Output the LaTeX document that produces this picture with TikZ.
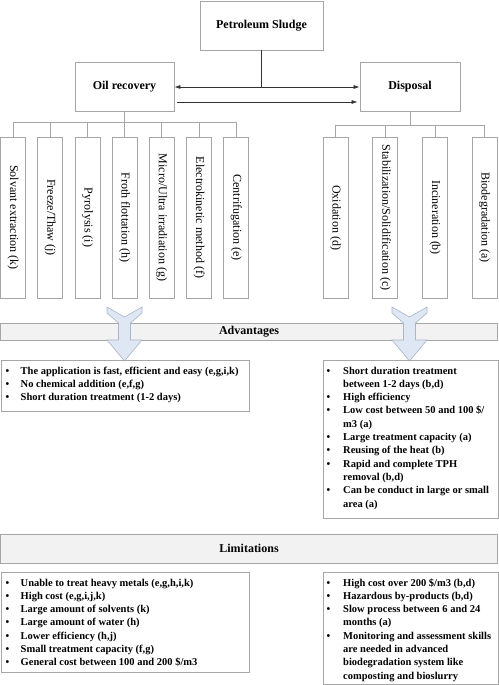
\documentclass[tikz,border=0pt]{standalone}
\usepackage{fontspec}
\setmainfont{Liberation Serif}
\usetikzlibrary{positioning,arrows.meta}

\definecolor{boxgray}{HTML}{A6A6A6}
\definecolor{barfill}{HTML}{F2F2F2}
\definecolor{chevfill}{HTML}{DEE7F3}
\definecolor{chevline}{HTML}{A9B6C6}

\tikzset{
  headbox/.style={draw=boxgray, line width=0.8pt, fill=white, minimum height=49pt, inner sep=0pt,
    font=\fontsize{12}{14}\selectfont\bfseries},
  methodbox/.style={draw=boxgray, line width=0.8pt, minimum width=25pt, minimum height=161pt, inner sep=0pt,
    font=\fontsize{12}{14}\selectfont},
  bus/.style={draw=boxgray, line width=0.8pt},
  barbox/.style={draw=boxgray, line width=0.8pt, fill=barfill, minimum width=497pt, inner sep=0pt,
    font=\fontsize{12}{14}\selectfont\bfseries},
  listbox/.style={draw=boxgray, line width=0.8pt, inner sep=0pt, anchor=north west},
  listtext/.style={inner sep=0pt, anchor=north west, align=left,
    font=\fontsize{10.5}{13.3}\selectfont\bfseries},
  flow/.style={line width=0.7pt, draw=black!80},
}

\begin{document}
\begin{tikzpicture}[x=1pt, y=-1pt]
\useasboundingbox (0,0) rectangle (498,685);

% top level
\node[headbox, minimum width=123pt] (sludge) at (261.5,25.5) {Petroleum Sludge};
\node[headbox, minimum width=99pt] (oil) at (124.5,87) {Oil recovery};
\node[headbox, minimum width=100pt] (disp) at (410,87) {Disposal};

\coordinate (mid) at (sludge.south |- oil.east);
\draw[flow] (sludge.south) -- (mid);
\draw[flow, {Latex[length=6pt,width=4pt]}-{Latex[length=6pt,width=4pt]}] (oil.east) -- (disp.west);
\draw[flow, -{Latex[length=6pt,width=4pt]}, shorten <=3pt, shorten >=2pt]
  ([yshift=-15pt]oil.east) -- ([yshift=-15pt]disp.west);

% methods
\foreach \lab [count=\i] in {Solvant extraction (k), Freeze/Thaw (j), Pyrolysis (i),
    Froth flottation (h), Micro/Ultra irradiation (g), Electrokinetic method (f), Centrifugation (e)}
  \node[methodbox] (m\i) at ({13+37.2*(\i-1)},217.5) {\rotatebox{-90}{\lab}};
\foreach \lab [count=\i] in {Oxidation (d), Stabilization/Solidification (c), Incineration (b), Biodegradation (a)}
  \node[methodbox] (d\i) at ({335.5+49.7*(\i-1)},217.5) {\rotatebox{-90}{\lab}};

\foreach \i in {1,...,7}
  \draw[bus] (oil.south) -- ++(0,10) -| (m\i.north);
\foreach \i in {1,...,4}
  \draw[bus] (disp.south) -- ++(0,13) -| (d\i.north);

% bars
\node[barbox, minimum height=17pt] (adv) at (249,331.5) {Advantages};
\node[barbox, minimum height=29pt] (lim) at (249,548.5) {Limitations};

\foreach \cx in {124.5,409.5}
  \draw[chevline, fill=chevfill, line width=0.6pt]
    (\cx-17.5,307) -- (\cx,317) -- (\cx+17.5,307) -- (\cx+17.5,313) -- (\cx+6,323)
    -- (\cx+6,340) -- (\cx+17.5,340) -- (\cx,361) -- (\cx-17.5,340) -- (\cx-6,340)
    -- (\cx-6,323) -- (\cx-17.5,313) -- cycle;

% lists
\node[listbox, minimum width=248pt, minimum height=51pt] (advL) at (1,360) {};
\node[listbox, minimum width=174.5pt, minimum height=158pt] (advR) at (323,360) {};
\node[listbox, minimum width=248pt, minimum height=100pt] (limL) at (1,572) {};
\node[listbox, minimum width=174.5pt, minimum height=112pt] (limR) at (323,572) {};

\node[listtext] (advLtxt) at ([xshift=4.5pt,yshift=-4.5pt]advL.north west) {%
  \begin{tabular}{@{}p{15pt}@{}l@{}}
  \textbullet & The application is fast, efficient and easy (e,g,i,k)\\
  \textbullet & No chemical addition (e,f,g)\\
  \textbullet & Short duration treatment (1-2 days)
  \end{tabular}};
\node[listtext] (advRtxt) at ([xshift=3.5pt,yshift=-4.5pt]advR.north west) {%
  \begin{tabular}{@{}p{16.5pt}@{}l@{}}
  \textbullet & Short duration treatment\\
              & between 1-2 days (b,d)\\
  \textbullet & High efficiency\\
  \textbullet & Low cost between 50 and 100 \$/\\
              & m3 (a)\\
  \textbullet & Large treatment capacity (a)\\
  \textbullet & Reusing of the heat (b)\\
  \textbullet & Rapid and complete TPH\\
              & removal (b,d)\\
  \textbullet & Can be conduct in large or small\\
              & area (a)
  \end{tabular}};
\node[listtext] (limLtxt) at ([xshift=4.5pt,yshift=-4.5pt]limL.north west) {%
  \begin{tabular}{@{}p{15pt}@{}l@{}}
  \textbullet & Unable to treat heavy metals (e,g,h,i,k)\\
  \textbullet & High cost (e,g,i,j,k)\\
  \textbullet & Large amount of solvents (k)\\
  \textbullet & Large amount of water (h)\\
  \textbullet & Lower efficiency (h,j)\\
  \textbullet & Small treatment capacity (f,g)\\
  \textbullet & General cost between 100 and 200 \$/m3
  \end{tabular}};
\node[listtext] (limRtxt) at ([xshift=3.5pt,yshift=-4.5pt]limR.north west) {%
  \begin{tabular}{@{}p{16.5pt}@{}l@{}}
  \textbullet & High cost over 200 \$/m3 (b,d)\\
  \textbullet & Hazardous by-products (b,d)\\
  \textbullet & Slow process between 6 and 24\\
              & months (a)\\
  \textbullet & Monitoring and assessment skills\\
              & are needed in advanced\\
              & biodegradation system like\\
              & composting and bioslurry
  \end{tabular}};
\end{tikzpicture}
\end{document}
